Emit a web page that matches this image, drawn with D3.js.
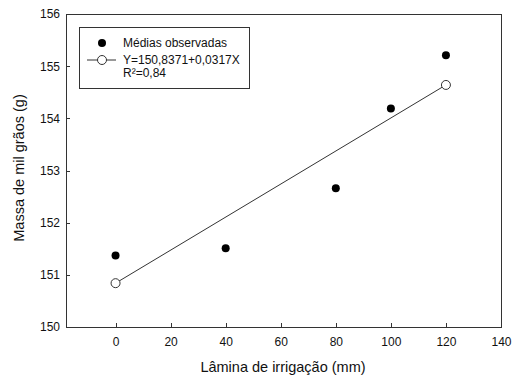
<!DOCTYPE html>
<html lang="en">
<head>
<meta charset="utf-8">
<title>Massa de mil grãos</title>
<style>
body { margin: 0; background: #fff; }
svg { display: block; font-family: "Liberation Sans", Arial, sans-serif; }
.axis path, .axis line { stroke: #333; shape-rendering: crispEdges; }
.axis text { font-size: 12px; fill: #111; }
</style>
</head>
<body>
<svg width="515" height="386"></svg>
<script src="https://d3js.org/d3.v7.min.js"></script>
<script>
// observed means
var lamina = [0, 40, 80, 100, 120];
var massa = [151.37, 151.51, 152.66, 154.19, 155.21];
// fitted line endpoints (Y=150,8371+0,0317X)
var fitX = [0, 120];
var fitY = [150.84, 154.64];
var xTicks = [0, 20, 40, 60, 80, 100, 120, 140];
var yTicks = [150, 151, 152, 153, 154, 155, 156];

var svg = d3.select("svg"),
    margin = {top: 14, right: 14, bottom: 59, left: 66},
    width = 515 - margin.left - margin.right,
    height = 386 - margin.top - margin.bottom;

var x = d3.scaleLinear().domain([-18, 140]).range([0, width]);
var y = d3.scaleLinear().domain([150, 156]).range([height, 0]);

var g = svg.append("g")
    .attr("transform", "translate(" + margin.left + "," + margin.top + ")");

g.append("rect")
    .attr("width", width).attr("height", height)
    .attr("fill", "none").attr("stroke", "#333")
    .attr("shape-rendering", "crispEdges");

g.append("g")
    .attr("class", "axis")
    .attr("transform", "translate(0," + height + ")")
    .call(d3.axisBottom(x).tickValues(xTicks).tickSizeInner(-4).tickSizeOuter(0).tickPadding(10))
    .select(".domain").remove();

g.append("g")
    .attr("class", "axis")
    .call(d3.axisLeft(y).tickValues(yTicks).tickFormat(d3.format("d")).tickSizeInner(-4).tickSizeOuter(0).tickPadding(6))
    .select(".domain").remove();

g.append("path")
    .datum(fitX.map(function(d, i) { return [d, fitY[i]]; }))
    .attr("fill", "none").attr("stroke", "#333").attr("stroke-width", 1)
    .attr("d", d3.line().x(function(d) { return x(d[0]); }).y(function(d) { return y(d[1]); }));

g.selectAll(".fit").data(fitX).enter().append("circle")
    .attr("class", "fit")
    .attr("cx", function(d) { return x(d); })
    .attr("cy", function(d, i) { return y(fitY[i]); })
    .attr("r", 4.5).attr("fill", "#fff").attr("stroke", "#333");

g.selectAll(".obs").data(lamina).enter().append("circle")
    .attr("class", "obs")
    .attr("cx", function(d) { return x(d); })
    .attr("cy", function(d, i) { return y(massa[i]); })
    .attr("r", 4).attr("fill", "#000");

// legend
var lg = svg.append("g");
lg.append("rect")
    .attr("x", 79.5).attr("y", 27.5).attr("width", 170).attr("height", 61)
    .attr("fill", "#fff").attr("stroke", "#333");
lg.append("circle").attr("cx", 102).attr("cy", 43).attr("r", 4).attr("fill", "#000");
lg.append("line").attr("x1", 87).attr("x2", 116).attr("y1", 60).attr("y2", 60).attr("stroke", "#333");
lg.append("circle").attr("cx", 102).attr("cy", 60).attr("r", 4.5).attr("fill", "#fff").attr("stroke", "#333");
var lt = [["Médias observadas", 47], ["Y=150,8371+0,0317X", 64], ["R²=0,84", 77]];
lg.selectAll("text").data(lt).enter().append("text")
    .attr("x", 123).attr("y", function(d) { return d[1]; })
    .attr("font-size", "12px").attr("fill", "#111")
    .text(function(d) { return d[0]; });

svg.append("text")
    .attr("x", 283).attr("y", 372)
    .attr("text-anchor", "middle").attr("font-size", "14.5px").attr("fill", "#111")
    .text("Lâmina de irrigação (mm)");

svg.append("text")
    .attr("transform", "translate(24,168) rotate(-90)")
    .attr("text-anchor", "middle").attr("font-size", "14.5px").attr("fill", "#111")
    .text("Massa de mil grãos (g)");
</script>
</body>
</html>
